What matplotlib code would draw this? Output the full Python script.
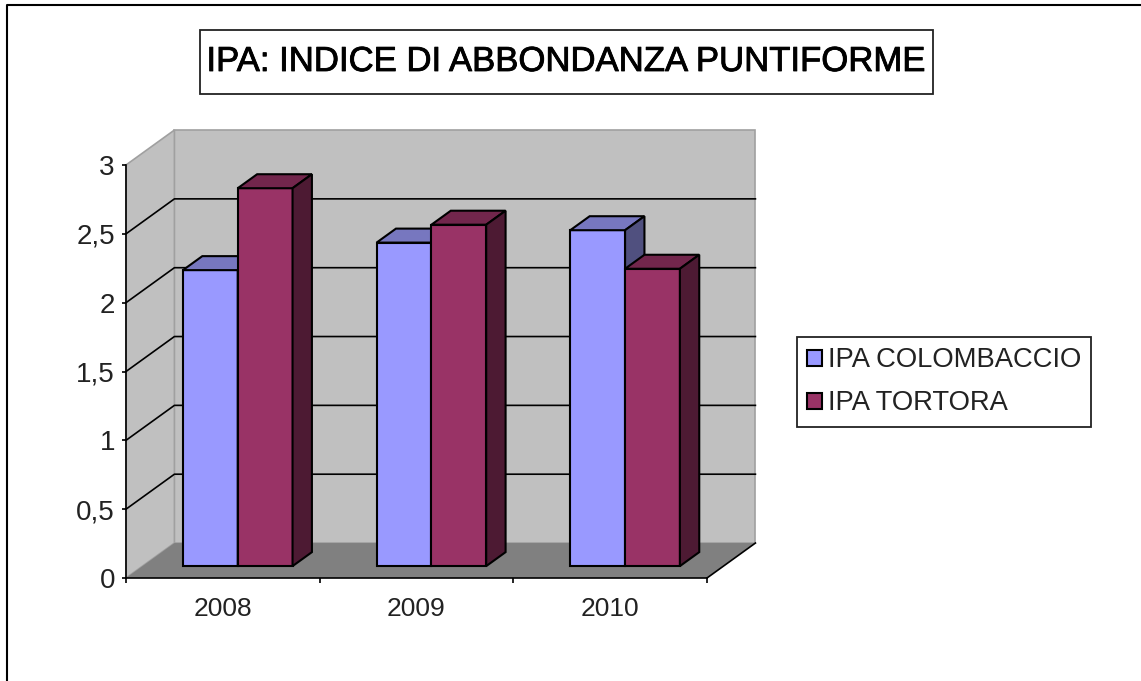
import matplotlib
matplotlib.use('Agg')
import matplotlib.pyplot as plt
import matplotlib.patheffects as pe
from matplotlib.patches import Polygon, Patch, Rectangle

W, H = 1141, 681

anni = ['2008', '2009', '2010']
colombaccio = [2.15, 2.35, 2.44]
tortora = [2.745, 2.48, 2.16]
serie = ['IPA COLOMBACCIO', 'IPA TORTORA']
yticks = [0, 0.5, 1, 1.5, 2, 2.5, 3]
ylabels = ['0', '0,5', '1', '1,5', '2', '2,5', '3']

plt.rcParams['font.family'] = ['Liberation Sans', 'DejaVu Sans']

fig = plt.figure(figsize=(W / 100, H / 100), dpi=100)

# piano frontale del grafico, in pixel
ax = fig.add_axes([126 / W, 1 - 578 / H, 581 / W, 413 / H])
ax.set_xlim(-0.5, 2.5)
ax.set_ylim(0, 3)
ax.patch.set_visible(False)

# finta prospettiva: z=0 davanti, z=1 dietro
DX = 0.25
DY = 0.254


def proj(x, v, z):
    return (x + DX * z, v + DY * z)


def poly(pts, fc, ec='black', lw=1.0, zo=2):
    ax.add_patch(Polygon([proj(*p) for p in pts], closed=True, fc=fc, ec=ec, lw=lw,
                         zorder=zo, clip_on=False, joinstyle='miter'))


# pareti e pavimento
poly([(-0.5, 0, 1), (2.5, 0, 1), (2.5, 3, 1), (-0.5, 3, 1)], '#c0c0c0', '#a0a0a0', 1.2, 1)
poly([(-0.5, 0, 0), (-0.5, 0, 1), (-0.5, 3, 1), (-0.5, 3, 0)], '#c0c0c0', '#a0a0a0', 1.2, 1)
poly([(-0.5, 0, 0), (2.5, 0, 0), (2.5, 0, 1), (-0.5, 0, 1)], '#808080', 'none', 0, 1)

# griglia
for v in yticks[1:-1]:
    a = proj(-0.5, v, 0)
    b = proj(-0.5, v, 1)
    c = proj(2.5, v, 1)
    ax.plot([a[0], b[0], c[0]], [a[1], b[1], c[1]], color='black', lw=1.2, zorder=1.5, clip_on=False)
a = proj(2.5, 0, 0)
b = proj(2.5, 0, 1)
ax.plot([a[0], b[0]], [a[1], b[1]], color='black', lw=1.2, zorder=1.5, clip_on=False)

# barre 3d
Z0 = 0.34
Z1 = 0.74
LARG = 0.283
OFF = -0.008


def barra(x0, x1, v, front, top, side):
    poly([(x0, 0, Z0), (x1, 0, Z0), (x1, v, Z0), (x0, v, Z0)], front, lw=1.5, zo=3)
    poly([(x0, v, Z0), (x1, v, Z0), (x1, v, Z1), (x0, v, Z1)], top, lw=1.5, zo=3)
    poly([(x1, 0, Z0), (x1, 0, Z1), (x1, v, Z1), (x1, v, Z0)], side, lw=1.5, zo=3)


for i in range(len(anni)):
    c = i + OFF
    barra(c - LARG, c, colombaccio[i], '#9999ff', '#7777bf', '#50507f')
    barra(c, c + LARG, tortora[i], '#993366', '#72264c', '#4d1a33')

# assi
for s in ['top', 'right']:
    ax.spines[s].set_visible(False)
for s in ['left', 'bottom']:
    ax.spines[s].set_linewidth(1.2)
    ax.spines[s].set_zorder(4)
ax.set_yticks(yticks)
ax.set_yticklabels(ylabels)
ax.set_xticks([-0.5, 0.5, 1.5, 2.5])
ax.set_xticklabels([])
ax.set_xticks(range(len(anni)), anni, minor=True)
ax.tick_params(axis='x', which='major', length=3.6, width=1.2, direction='out')
ax.tick_params(axis='x', which='minor', length=0, labelsize=19, pad=13.5, labelcolor='#222222')
ax.tick_params(axis='y', length=3, width=1.2, labelsize=20, pad=5, labelcolor='#222222')

# titolo
fig.add_artist(Rectangle((200 / W, 1 - 94 / H), 733 / W, 64 / H, transform=fig.transFigure,
                         fc='white', ec='#222222', lw=1.3))
fig.text(566 / W, 1 - 71 / H, 'IPA: INDICE DI ABBONDANZA PUNTIFORME', ha='center', va='baseline',
         fontsize=25, color='black', path_effects=[pe.withStroke(linewidth=0.6, foreground='black')])

# legenda
handles = [Patch(fc='#9999ff', ec='black', lw=1.5, label=serie[0]),
           Patch(fc='#993366', ec='black', lw=1.5, label=serie[1])]
leg = ax.legend(handles=handles, loc='upper left', bbox_to_anchor=(797 / W, 1 - 337 / H),
                bbox_transform=fig.transFigure, fontsize=19.7, fancybox=False, framealpha=1,
                edgecolor='#222222', handlelength=0.54, handleheight=0.54, handletextpad=0.2,
                labelspacing=0.62, borderpad=0.38, borderaxespad=0, labelcolor='#222222')
leg.get_frame().set_linewidth(1.3)
leg.set_zorder(6)

# cornice esterna
fig.add_artist(plt.Line2D([7 / W, 7 / W, 1], [0, 1 - 5 / H, 1 - 5 / H], transform=fig.transFigure,
                          color='black', lw=1.5))

fig.savefig('out.png', dpi=100)
